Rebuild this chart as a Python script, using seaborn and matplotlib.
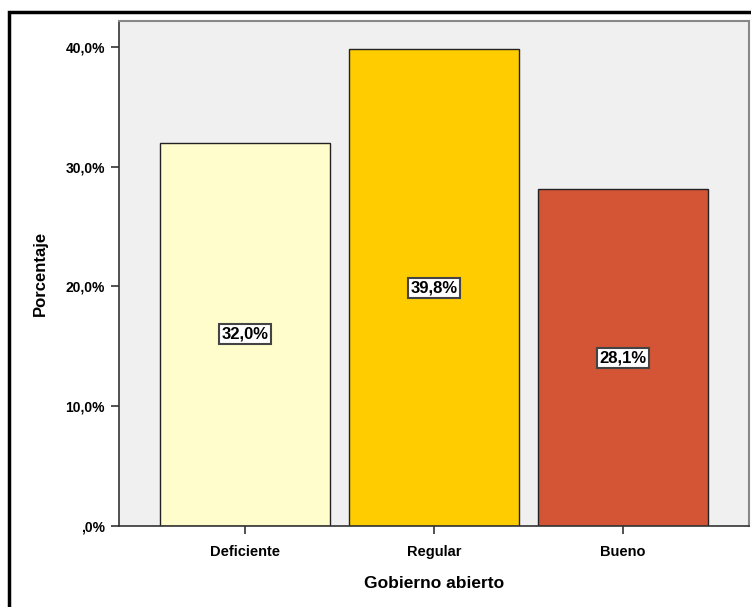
import seaborn as sns
import pandas as pd
import matplotlib.pyplot as plt
from matplotlib.patches import Rectangle
from matplotlib.ticker import FuncFormatter

sns.set_style("white")
plt.rcParams['font.family'] = ['Liberation Sans', 'DejaVu Sans']
plt.rcParams['text.color'] = 'black'
plt.rcParams['xtick.color'] = 'black'
plt.rcParams['ytick.color'] = 'black'
plt.rcParams['axes.labelcolor'] = 'black'

categorias = ["Deficiente", "Regular", "Bueno"]
porcentajes = [32.0, 39.8, 28.1]
colores = ["#FFFDCB", "#FFCC00", "#D35535"]

df = pd.DataFrame({"Gobierno abierto": categorias, "Porcentaje": porcentajes})

fig = plt.figure(figsize=(7.51, 6.07), dpi=100)
ax = fig.add_axes([119/751, 1 - 526/607, 630/751, 505/607])
ax.set_facecolor("#F0F0F0")

sns.barplot(data=df, x="Gobierno abierto", y="Porcentaje", hue="Gobierno abierto",
            palette=colores, order=categorias, hue_order=categorias,
            width=0.9, edgecolor="#222222", linewidth=1, saturation=1,
            legend=False, ax=ax)

for i, v in enumerate(porcentajes):
    ax.text(i, v / 2, f"{v:.1f}%".replace(".", ","), ha="center", va="center",
            fontsize=12, fontweight="bold", color="black",
            bbox=dict(boxstyle="square,pad=0.15", fc="white", ec="#444444", lw=1.5))

ax.set_xlim(-0.667, 2.667)
ax.set_ylim(0, 42.17)
ax.set_yticks([0, 10, 20, 30, 40])
ax.yaxis.set_major_formatter(FuncFormatter(
    lambda v, p: ",0%" if v == 0 else f"{v:.1f}%".replace(".", ",")))

for s in ["left", "bottom"]:
    ax.spines[s].set_color("#333333")
    ax.spines[s].set_linewidth(1.2)
for s in ["top", "right"]:
    ax.spines[s].set_color("#888888")
    ax.spines[s].set_linewidth(1.5)

ax.tick_params(axis="y", left=True, length=6, width=1.2, color="#333333", pad=4,
               labelsize=10)
ax.tick_params(axis="x", bottom=True, length=6, width=1.2, color="#333333", pad=8,
               labelsize=10.5)
for lab in ax.get_xticklabels() + ax.get_yticklabels():
    lab.set_fontweight("bold")

ax.set_xlabel("Gobierno abierto", fontsize=12.5, fontweight="bold", labelpad=12)
ax.set_ylabel("Porcentaje", fontsize=12, fontweight="bold", labelpad=13)

fig.patches.append(Rectangle((9/751, -0.1), 1.2, 1 - 12/607 + 0.1,
                             transform=fig.transFigure, fill=False,
                             ec="black", lw=2.5, zorder=10))

fig.savefig("out.png", dpi=100)
